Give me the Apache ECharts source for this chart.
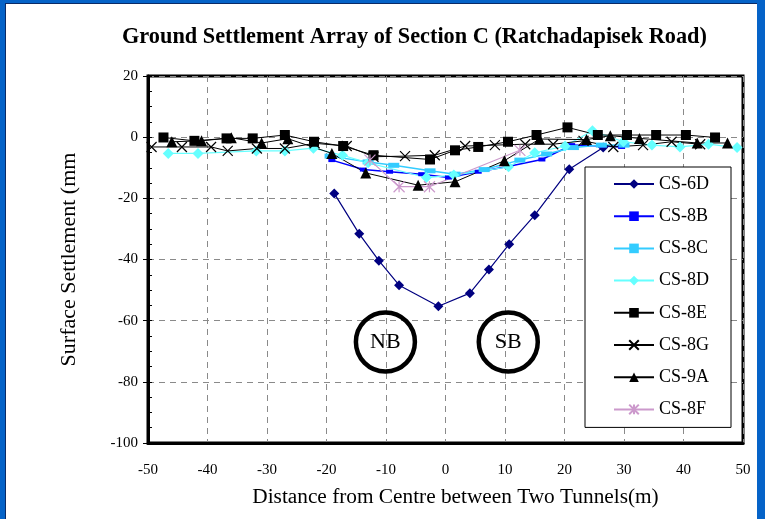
<!DOCTYPE html>
<html><head><meta charset="utf-8">
<script src="https://cdn.jsdelivr.net/npm/echarts@6/dist/echarts.min.js"></script>
<style>
html,body{margin:0;padding:0;width:765px;height:519px;overflow:hidden;background:#0563C8;}
#bg{position:absolute;left:5px;top:3px;width:752px;height:520px;background:#fff;border-top:1px solid #0a2a66;border-left:1px solid #0a2a66;box-sizing:border-box;}
#c{position:absolute;left:0;top:0;width:765px;height:519px;}
</style></head>
<body><div id="bg"></div><div id="c"></div>
<script>
const TITLE = 'Ground Settlement Array of Section C (Ratchadapisek Road)';
const X_NAME = 'Distance from Centre between Two Tunnels(m)';
const Y_NAME = 'Surface Settlement (mm';
const SERIES_NAMES = ['CS-6D','CS-8B','CS-8C','CS-8D','CS-8E','CS-8G','CS-9A','CS-8F'];

const CS_6D = [[-18.7,-18.4],[-14.5,-31.6],[-11.2,-40.4],[-7.8,-48.4],[-1.2,-55.3],[4.1,-51],[7.3,-43.3],[10.7,-35],[15,-25.5],[20.8,-10.5],[26.5,-3.4]];
const CS_8B = [[-19.1,-7.5],[-13.8,-10.6],[-9.4,-11.3],[-4,-12.1],[0.5,-13.2],[5.5,-11.3],[10.5,-9.6],[16.2,-7.3],[21.2,-2.6],[26.3,-2.9],[29.6,-3.2]];
const CS_8C = [[-19.4,-6.2],[-13,-8.1],[-8.7,-9.2],[-2.6,-11],[1.6,-12.1],[6.5,-10.6],[12.5,-7.5],[17,-5.5],[21.5,-3.4],[26.2,-2.6],[30,-2.6]];
const CS_8D = [[-46.6,-5.3],[-41.6,-5.3],[-31.8,-4.5],[-27,-4.5],[-22.2,-3.6],[-17.3,-5.9],[-13,-8.4],[-3.2,-13.2],[1.4,-12.4],[10.6,-9.7],[15,-5.1],[20.1,-2.9],[24.7,2.1],[29.9,-1.5],[34.7,-2.6],[39.4,-3.2],[44.2,-2.3],[49,-3.4]];
const CS_8E = [[-47.4,-0.1],[-42.2,-1.2],[-36.8,-0.4],[-32.4,-0.4],[-27,0.7],[-22.1,-1.5],[-17.2,-2.9],[-12.1,-5.9],[-2.6,-7.3],[1.6,-4.3],[5.5,-3.2],[10.5,-1.5],[15.3,0.7],[20.5,3.2],[25.6,0.7],[30.5,0.7],[35.4,0.7],[40.4,0.7],[45.3,-0.1]];
const CS_8G = [[-49.4,-3.2],[-44.3,-3.2],[-39.4,-3.2],[-36.6,-4.5],[-31.7,-3.7],[-27,-3.7],[-22,-2],[-16.6,-2.9],[-12.1,-6.4],[-6.8,-6.2],[-1.8,-5.9],[3.3,-2.9],[8.3,-2.6],[13.4,-2.3],[18.1,-2.3],[23.2,-1.2],[28.2,-3.2],[33.2,-2.6],[38,-1.5],[42.8,-2.3]];
const CS_9A = [[-46,-1.5],[-41,-1.2],[-36,-0.2],[-30.9,-1.9],[-26.5,-0.5],[-19.1,-5.3],[-13.4,-11.7],[-4.6,-15.7],[1.6,-14.6],[9.9,-7.7],[15.8,-0.6],[23.7,-0.8],[27.7,0.5],[32.6,-0.4],[42.3,-1.9],[47.4,-1.9]];
const CS_8F = [[-12.7,-7.5],[-7.8,-16.2],[-2.7,-16.2],[12.5,-4.3]];
const TUNNELS = [[-10.1,-67,'NB'],[10.55,-67,'SB']];
const X_MIN = -50, X_MAX = 50, X_STEP = 10;
const Y_MIN = -100, Y_MAX = 20, Y_STEP = 20;

const FONT = '"Liberation Serif","Times New Roman",serif';
const X_SYM = 'path://M0,0L10,10M10,0L0,10';
const AST_SYM = 'path://M0,0L10,10M10,0L0,10M5,0L5,10';

function ls(name, data, color, symbol, size, opts) {
  opts = opts || {};
  return {
    name: name, type: 'line', data: data, symbol: symbol, symbolSize: size,
    lineStyle: {color: color, width: opts.lw || 1},
    itemStyle: opts.stroke ? {color: 'none', borderColor: color, borderWidth: 1.2} : {color: color, borderWidth: 0},
    emphasis: {disabled: true}, clip: true, animation: false, z: 3
  };
}

const chart = echarts.init(document.getElementById('c'), null, {renderer: 'canvas'});
chart.setOption({
  animation: false,
  textStyle: {fontFamily: FONT, color: '#000'},
  title: {text: TITLE, left: 117, top: 21,
    textStyle: {fontFamily: FONT, fontWeight: 'bold', fontSize: 22.3, color: '#000'}},
  grid: {left: 148, right: 22, top: 76, bottom: 76, show: true, borderColor: '#000', borderWidth: 3, backgroundColor: 'transparent'},
  legend: {
    data: SERIES_NAMES, orient: 'vertical', left: 585, top: 167,
    backgroundColor: '#fff', borderColor: '#000', borderWidth: 1,
    padding: [7, 22, 8, 28], itemWidth: 40, itemHeight: 12, itemGap: 12.2,
    textStyle: {fontFamily: FONT, fontSize: 18, color: '#000', lineHeight: 20},
    selectedMode: false
  },
  xAxis: {
    type: 'value', min: X_MIN, max: X_MAX, interval: X_STEP,
    name: X_NAME, nameLocation: 'middle', nameGap: 44,
    nameTextStyle: {fontFamily: FONT, fontSize: 21.3, color: '#000', padding: [0, 0, 0, 20]},
    axisLine: {show: true, onZero: false, lineStyle: {color: '#000', width: 3}},
    axisTick: {show: false},
    axisLabel: {fontFamily: FONT, fontSize: 15, color: '#000', margin: 20},
    splitLine: {show: true, lineStyle: {color: '#8a8a8a', type: [6, 5], width: 1}}
  },
  yAxis: [{
    type: 'value', min: Y_MIN, max: Y_MAX, interval: Y_STEP,
    name: Y_NAME, nameLocation: 'middle', nameGap: 68,
    nameTextStyle: {fontFamily: FONT, fontSize: 22, color: '#000'},
    axisLine: {show: true, onZero: false, lineStyle: {color: '#000', width: 3}},
    axisTick: {show: true, length: 5, lineStyle: {color: '#000', width: 1}},
    axisLabel: {fontFamily: FONT, fontSize: 15, color: '#000', margin: 10},
    splitLine: {show: true, lineStyle: {color: '#8a8a8a', type: [6, 5], width: 1}}
  }, {
    type: 'value', min: Y_MIN, max: Y_MAX, interval: 5, position: 'left',
    axisLine: {show: false, onZero: false}, axisLabel: {show: false}, splitLine: {show: false},
    axisTick: {show: true, inside: true, length: 4, lineStyle: {color: '#000', width: 1}}
  }],
  series: [
    ls('CS-6D', CS_6D, '#000080', 'diamond', 10, {lw: 1.2}),
    ls('CS-8B', CS_8B, '#0000ff', 'rect', [7, 4], {lw: 1.5}),
    ls('CS-8C', CS_8C, '#33ccff', 'rect', [11, 5], {lw: 1.5}),
    ls('CS-8D', CS_8D, '#66ffff', 'diamond', 11, {lw: 1.2}),
    ls('CS-8E', CS_8E, '#000000', 'rect', 10, {lw: 1}),
    ls('CS-8G', CS_8G, '#000000', X_SYM, 10, {lw: 1, stroke: true}),
    ls('CS-9A', CS_9A, '#000000', 'triangle', 11, {lw: 1}),
    ls('CS-8F', CS_8F, '#cc99cc', AST_SYM, 11, {lw: 1.2, stroke: true}),
    {
      name: 'tunnels', type: 'scatter', data: TUNNELS, symbol: 'circle', symbolSize: 59,
      itemStyle: {color: 'rgba(0,0,0,0)', borderColor: '#000', borderWidth: 4.5, opacity: 1},
      label: {show: true, position: 'inside', formatter: p => p.data[2], fontFamily: FONT, fontSize: 22, color: '#000', opacity: 1},
      emphasis: {disabled: true}, z: 2, silent: true
    }
  ]
});
</script></body></html>
